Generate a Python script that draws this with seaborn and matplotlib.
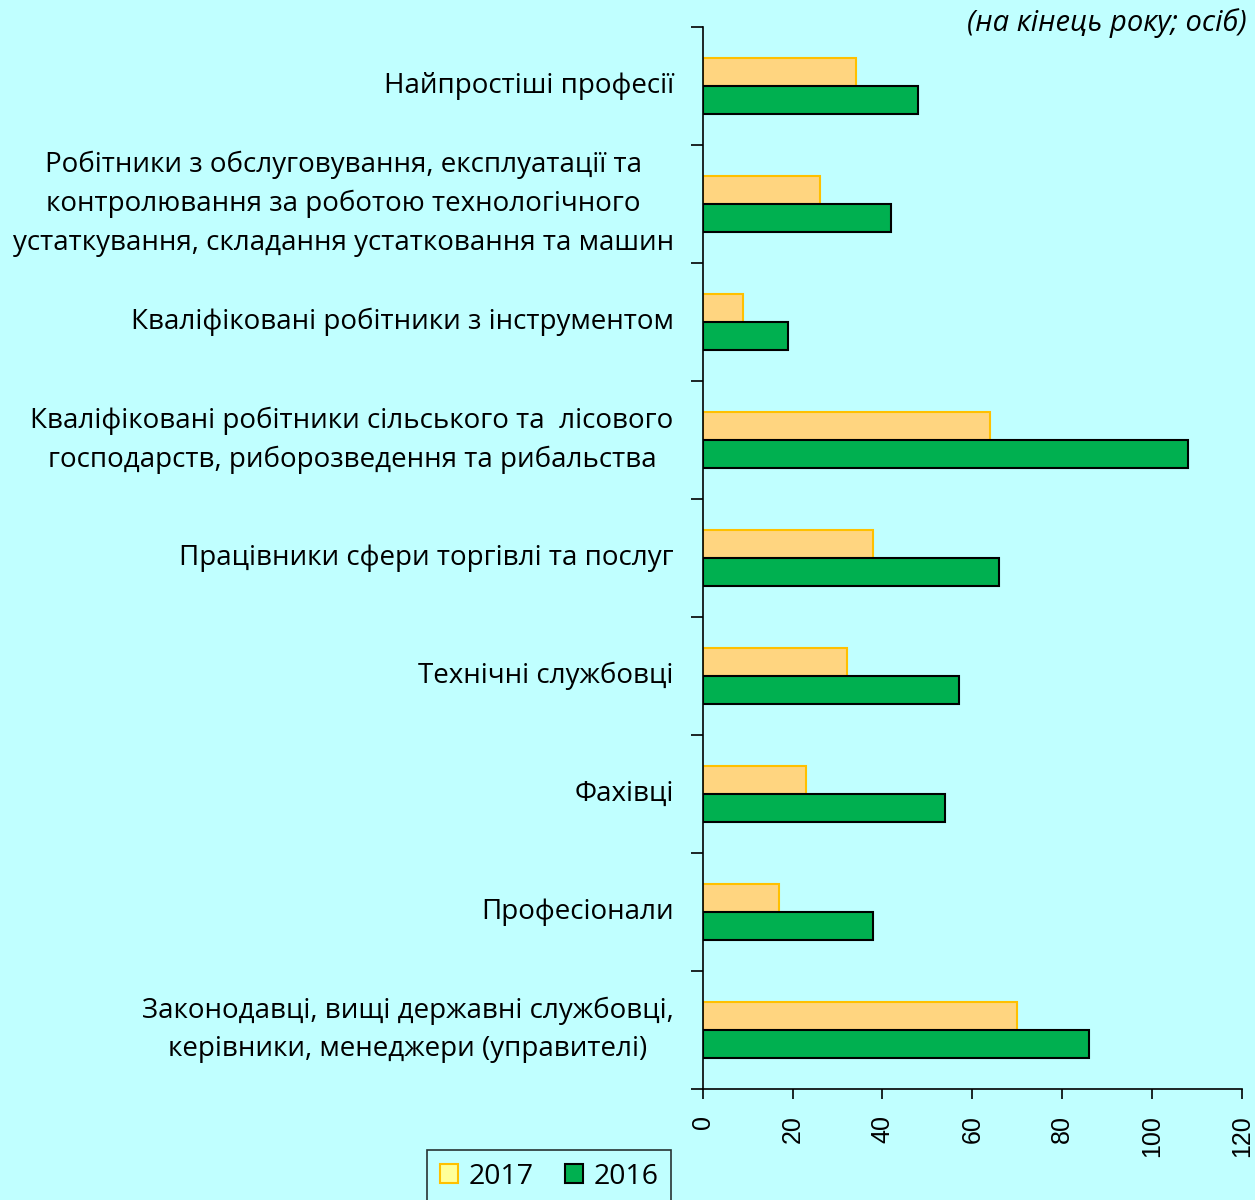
import matplotlib
matplotlib.use("Agg")
import matplotlib.pyplot as plt
from matplotlib.patches import Patch
import numpy as np
import pandas as pd
import seaborn as sns

# categories top to bottom
categories = [
    "Найпростіші професії",
    "Робітники з обслуговування, експлуатації та\nконтролювання за роботою технологічного\nустаткування, складання устатковання та машин",
    "Кваліфіковані робітники з інструментом",
    "Кваліфіковані робітники сільського та  лісового\nгосподарств, риборозведення та рибальства",
    "Працівники сфери торгівлі та послуг",
    "Технічні службовці",
    "Фахівці",
    "Професіонали",
    "Законодавці, вищі державні службовці,\nкерівники, менеджери (управителі)",
]
values_2017 = [34, 26, 9, 64, 38, 32, 23, 17, 70]
values_2016 = [48, 42, 19, 108, 66, 57, 54, 38, 86]
years = ["2017", "2016"]
xticks = [0, 20, 40, 60, 80, 100, 120]

df = pd.DataFrame({
    "category": categories * 2,
    "year": [years[0]] * len(categories) + [years[1]] * len(categories),
    "value": values_2017 + values_2016,
})

bg = "#C0FFFF"
plt.rcParams["font.family"] = ["Open Sans", "DejaVu Sans"]

fig = plt.figure(figsize=(12.55, 12), dpi=100, facecolor=bg)
ax = fig.add_axes([0.560, 0.0925, 0.4295, 0.885])
ax.set_facecolor(bg)

sns.barplot(data=df, y="category", x="value", hue="year", hue_order=years,
            order=categories, orient="h",
            palette={"2017": "#FFD580", "2016": "#00B050"}, saturation=1,
            width=0.48, gap=0, linewidth=1.5, legend=False, ax=ax)

# edge colours per series
for cont, ec in zip(ax.containers, ["#FFC000", "black"]):
    for bar in cont:
        bar.set_edgecolor(ec)
        bar.set_linewidth(1.5)

ax.set_xlim(0, 120)
ax.set_ylim(len(categories) - 0.5, -0.5)
ax.set_xlabel("")
ax.set_ylabel("")

ax.set_xticks(xticks)
ax.set_xticklabels([str(t) for t in xticks], rotation=90,
                   fontfamily="Liberation Sans", fontsize=18)
ax.tick_params(axis="x", length=7, width=1.2, pad=12)

ax.set_yticks(range(len(categories)))
ax.set_yticklabels(categories, fontsize=20, multialignment="center",
                   linespacing=1.5, va="center")
ax.set_yticks(np.arange(-0.5, len(categories)), minor=True)
ax.tick_params(axis="y", which="major", length=0, pad=21)
ax.tick_params(axis="y", which="minor", length=9, width=1.2)

for s in ["top", "right"]:
    ax.spines[s].set_visible(False)
for s in ["left", "bottom"]:
    ax.spines[s].set_color("black")
    ax.spines[s].set_linewidth(1.2)

fig.text(0.993, 0.981, "(на кінець року; осіб)", ha="right", va="center",
         fontsize=21, style="italic")

handles = [Patch(facecolor="#FFFF99", edgecolor="#FFC000", linewidth=1.5),
           Patch(facecolor="#00B050", edgecolor="black", linewidth=1.5)]
leg = fig.legend(handles, years, loc="upper center",
                 bbox_to_anchor=(0.4375, 0.0417), ncol=2, frameon=True,
                 fancybox=False, edgecolor="black", facecolor=bg,
                 handlelength=0.65, handleheight=0.65, handletextpad=0.35,
                 columnspacing=1.1, fontsize=20.5, borderaxespad=0,
                 borderpad=0.45)
leg.get_frame().set_linewidth(1.2)

fig.savefig("out.png", dpi=100, facecolor=bg)
